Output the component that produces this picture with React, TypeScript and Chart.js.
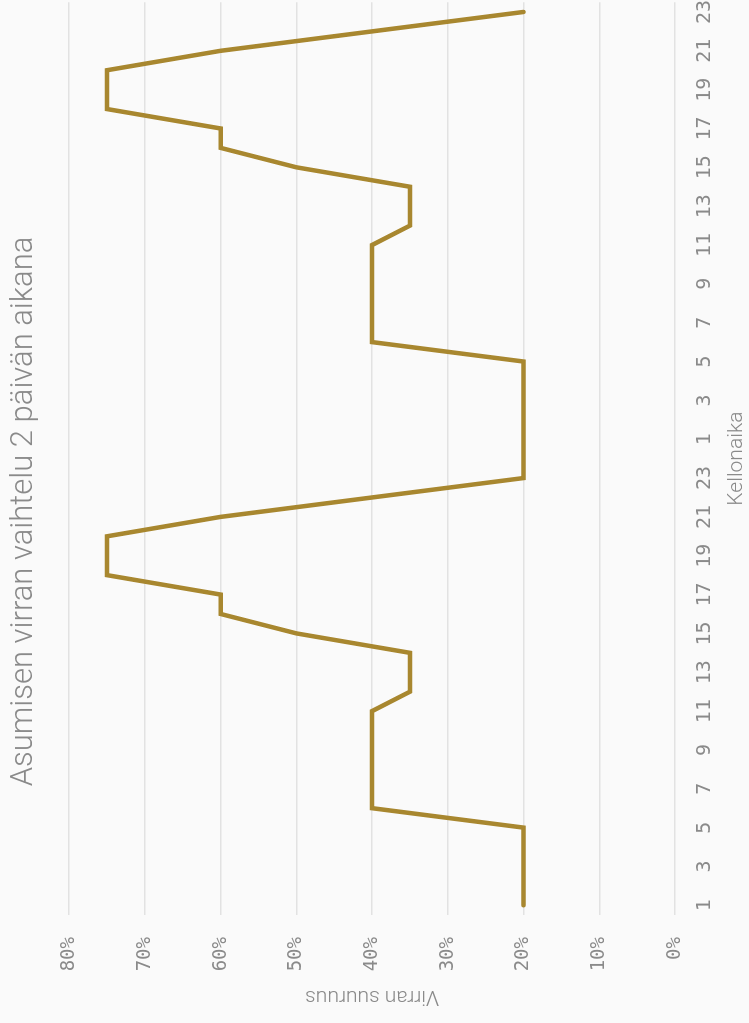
import React, { useEffect, useRef } from "react";
import { Chart, registerables } from "chart.js";

Chart.register(...registerables);

// Hour-of-day categories across two consecutive days
const day1Hours: string[] = [
  "1", "2", "3", "4", "5", "6", "7", "8", "9", "10", "11", "12",
  "13", "14", "15", "16", "17", "18", "19", "20", "21", "22", "23", "24",
];
const day2Hours: string[] = [
  "1", "2", "3", "4", "5", "6", "7", "8", "9", "10", "11", "12",
  "13", "14", "15", "16", "17", "18", "19", "20", "21", "22", "23",
];

// Household current level (% of maximum) per hour
const day1Current: number[] = [
  20, 20, 20, 20, 20, 40, 40, 40, 40, 40, 40, 35,
  35, 35, 50, 60, 60, 75, 75, 75, 60, 40, 20, 20,
];
const day2Current: number[] = [
  20, 20, 20, 20, 20, 40, 40, 40, 40, 40, 40, 35,
  35, 35, 50, 60, 60, 75, 75, 75, 60, 40, 20,
];

// Value axis ticks
const valueTicks: number[] = [0, 10, 20, 30, 40, 50, 60, 70, 80];

const TITLE = "Asumisen virran vaihtelu 2 päivän aikana";
const X_TITLE = "Kellonaika";
const Y_TITLE = "Virran suuruus";

const LINE_COLOR = "#A8872F";
const TEXT_COLOR = "#8a8a8a";
const GRID_COLOR = "#e2e2e2";
const BG_COLOR = "#fafafa";

// Chart is laid out landscape, then turned a quarter turn counter-clockwise
const CHART_W = 1023;
const CHART_H = 749;

const background = {
  id: "pageBackground",
  beforeDraw(chart: Chart) {
    const { ctx, width, height } = chart;
    ctx.save();
    ctx.fillStyle = BG_COLOR;
    ctx.fillRect(0, 0, width, height);
    ctx.restore();
  },
};

export default function App() {
  const canvasRef = useRef<HTMLCanvasElement | null>(null);

  useEffect(() => {
    document.body.style.margin = "0";
    document.body.style.background = BG_COLOR;
    document.body.style.overflow = "hidden";
    const canvas = canvasRef.current;
    if (!canvas) return;

    const labels = [...day1Hours, ...day2Hours];
    const values = [...day1Current, ...day2Current];

    const chart = new Chart(canvas, {
      type: "line",
      data: {
        labels,
        datasets: [
          {
            data: values,
            borderColor: LINE_COLOR,
            backgroundColor: LINE_COLOR,
            borderWidth: 4.5,
            tension: 0,
            pointRadius: 0,
            pointHoverRadius: 0,
            borderJoinStyle: "miter",
            borderCapStyle: "round",
            fill: false,
          },
        ],
      },
      options: {
        animation: false,
        responsive: true,
        maintainAspectRatio: false,
        layout: { padding: { left: 0, right: 0, top: 0, bottom: 0 } },
        plugins: {
          legend: { display: false },
          tooltip: { enabled: false },
          title: {
            display: true,
            text: TITLE,
            color: TEXT_COLOR,
            font: { family: "Roboto", size: 31, weight: "300" },
            padding: { top: 6, bottom: 26 },
          },
        },
        scales: {
          x: {
            type: "category",
            offset: true,
            grid: { display: false, drawTicks: false },
            border: { display: false },
            ticks: {
              autoSkip: false,
              maxRotation: 0,
              minRotation: 0,
              padding: 18,
              color: TEXT_COLOR,
              font: { family: "DejaVu Sans Mono", size: 20 },
              callback: (_v: any, i: number) => (i % 2 === 0 ? labels[i] : ""),
            },
            title: {
              display: true,
              text: X_TITLE,
              color: TEXT_COLOR,
              font: { family: "Roboto", size: 21, weight: "300" },
              padding: { top: 6, bottom: 0 },
            },
            afterFit: (scale: any) => {
              scale.height = 74;
              scale.paddingRight = 0;
              scale.paddingLeft = 0;
            },
          },
          y: {
            min: 0,
            max: 80,
            afterBuildTicks: (scale: any) => {
              scale.ticks = valueTicks.map((v) => ({ value: v }));
            },
            grid: { color: GRID_COLOR, lineWidth: 1.5, drawTicks: false },
            border: { display: false },
            ticks: {
              padding: 22,
              color: TEXT_COLOR,
              font: { family: "DejaVu Sans Mono", size: 19 },
              callback: (v: any) => `${v}%`,
            },
            title: {
              display: true,
              text: Y_TITLE,
              color: TEXT_COLOR,
              font: { family: "Roboto", size: 21, weight: "300" },
              padding: { top: 14, bottom: 0 },
            },
            afterFit: (scale: any) => {
              scale.width = 108;
            },
          },
        },
      },
      plugins: [background],
    });

    return () => chart.destroy();
  }, []);

  return (
    <div
      style={{
        position: "absolute",
        left: 0,
        top: 0,
        width: CHART_W,
        height: CHART_H,
        transformOrigin: "0 0",
        transform: `translateY(${CHART_W}px) rotate(-90deg)`,
        background: BG_COLOR,
      }}
    >
      <canvas ref={canvasRef} />
    </div>
  );
}
